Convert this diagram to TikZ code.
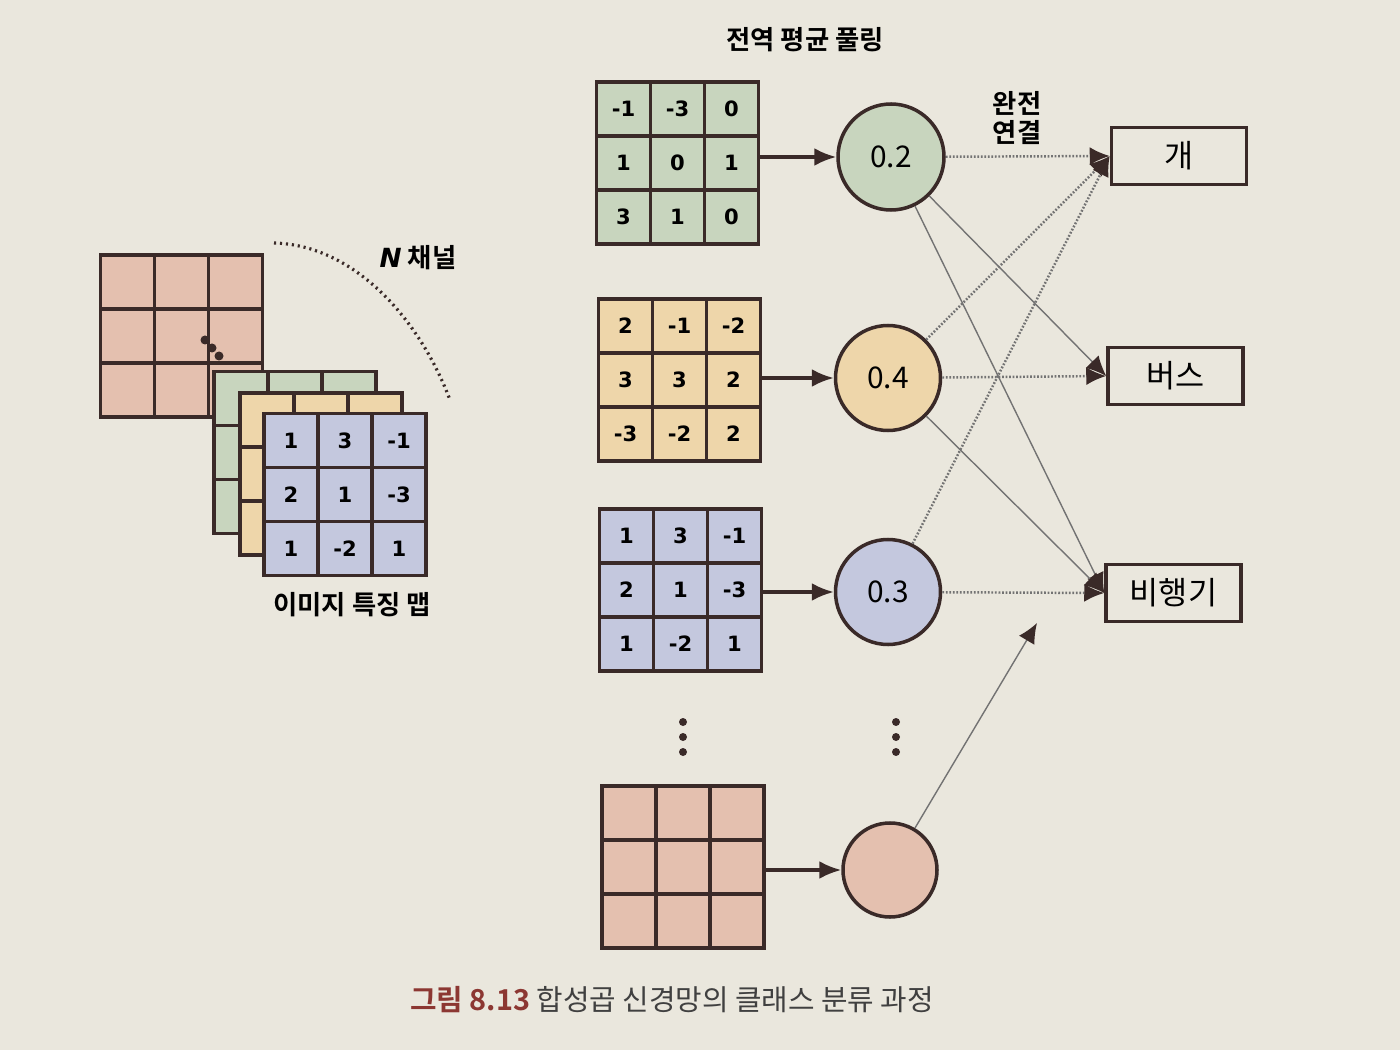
\documentclass[tikz,border=0pt]{standalone}
\usepackage{fontspec}
\setmainfont{Noto Sans CJK KR}[BoldFont={Noto Sans CJK KR Bold}]
\newfontfamily\numfont{DejaVu Sans}
\usetikzlibrary{matrix, arrows.meta}
\definecolor{paper}{RGB}{234,231,221}
\definecolor{ink}{RGB}{58,42,40}
\definecolor{mgreen}{RGB}{200,213,190}
\definecolor{myellow}{RGB}{238,214,170}
\definecolor{mblue}{RGB}{196,200,222}
\definecolor{mpink}{RGB}{228,192,175}
\definecolor{capred}{RGB}{140,55,50}
\begin{document}
\begin{tikzpicture}
  [cell/.style={draw=ink, line width=1pt, minimum width=5.4mm, minimum height=5.4mm, inner sep=0pt, font=\numfont\bfseries\fontsize{6}{7}\selectfont},
   fmap/.style={matrix of nodes, column sep=-1pt, row sep=-1pt, nodes in empty cells, nodes={cell, fill=#1}},
   pool/.style={circle, draw=ink, line width=1pt, minimum size=10.5mm, inner sep=0pt, font=\fontsize{8.5}{9}\selectfont},
   cls/.style={draw=ink, line width=1pt, minimum width=13.5mm, minimum height=5.7mm, inner sep=0pt, font=\fontsize{9}{10}\selectfont},
   feed/.style={draw=ink, line width=0.9pt, -{Latex[length=2.2mm, width=1.8mm]}},
   fc/.style={draw=black!55, line width=0.4pt, -{Latex[color=ink, length=2mm, width=1.8mm]}},
   fcdot/.style={fc, dash pattern=on 0.5pt off 0.5pt, line width=0.7pt},
   lbl/.style={font=\bfseries\fontsize{7.5}{8.5}\selectfont}]
  \fill[paper] (0,0) rectangle (14,10.5);
  \useasboundingbox (0,0) rectangle (14,10.5);
  % Define nodes
  \matrix[fmap=mpink] (b1) at (1.815,7.14) {&&\\&&\\&&\\};
  \foreach \x/\y in {2.05/7.10, 2.12/7.02, 2.19/6.94}
    \fill[ink] (\x,\y) circle (0.45mm);
  \matrix[fmap=mgreen] (b2) at (2.95,5.975) {&&\\&&\\&&\\};
  \matrix[fmap=myellow] (b3) at (3.21,5.76) {&&\\&&\\&&\\};
  \matrix[fmap=mblue] (b4) at (3.45,5.555) {1 & 3 & -1\\ 2 & 1 & -3\\ 1 & -2 & 1\\};
  \draw[ink, line width=0.9pt, dash pattern=on 0.6pt off 1.1pt] (2.74,8.07) .. controls (3.55,8.05) and (4.2,7.3) .. (4.50,6.50);
  \node[lbl] (t3) at (4.18,7.92) {{\numfont\bfseries\itshape N} 채널};
  \node[lbl] (t4) at (3.52,4.45) {이미지 특징 맵};

  \node[lbl] (t1) at (8.05,10.10) {전역 평균 풀링};
  \node[lbl, align=center] (t2) at (10.17,9.32) {완전\\연결};
  \matrix[fmap=mgreen] (m1) at (6.775,8.87) {-1 & -3 & 0\\ 1 & 0 & 1\\ 3 & 1 & 0\\};
  \matrix[fmap=myellow] (m2) at (6.795,6.70) {2 & -1 & -2\\ 3 & 3 & 2\\ -3 & -2 & 2\\};
  \matrix[fmap=mblue] (m3) at (6.805,4.60) {1 & 3 & -1\\ 2 & 1 & -3\\ 1 & -2 & 1\\};
  \matrix[fmap=mpink] (m4) at (6.83,1.83) {&&\\&&\\&&\\};
  \node[pool, fill=mgreen, minimum size=10.6mm] (p1) at (8.91,8.93) {0.2};
  \node[pool, fill=myellow] (p2) at (8.88,6.72) {0.4};
  \node[pool, fill=mblue] (p3) at (8.88,4.58) {0.3};
  \node[pool, fill=mpink, minimum size=9.4mm] (p4) at (8.90,1.80) {};
  \node[cls] (k1) at (11.79,8.94) {개};
  \node[cls] (k2) at (11.755,6.74) {버스};
  \node[cls] (k3) at (11.735,4.57) {비행기};
  \coordinate (tip) at (10.37,4.27);
  \foreach \y in {3.28,3.13,2.98} {
    \fill[ink] (6.83,\y) circle (0.4mm);
    \fill[ink] (8.96,\y) circle (0.4mm);
  }
  \node (cap) at (6.72,0.50) {\fontsize{8.2}{9}\selectfont{\color{capred}\bfseries 그림 8.13} \color{black!75}합성곱 신경망의 클래스 분류 과정};
  % Define edges
  \draw[feed] (m1-2-3.east |- p1) -- (p1);
  \draw[feed] (m2-2-3.east |- p2) -- (p2);
  \draw[feed] (m3-2-3.east |- p3) -- (p3);
  \draw[feed] (m4-2-3.east |- p4) -- (p4);
  \draw[fcdot] (p1) -- (k1.west);
  \draw[fc] (p1) -- (k2.west);
  \draw[fc] (p1) -- (k3.west);
  \draw[fcdot] (p2) -- (k1.west);
  \draw[fcdot] (p2) -- (k2.west);
  \draw[fc] (p2) -- (k3.west);
  \draw[fcdot] (p3) -- (k1.west);
  \draw[fcdot] (p3) -- (k3.west);
  \draw[fc] (p4) -- (tip);
\end{tikzpicture}
\end{document}
